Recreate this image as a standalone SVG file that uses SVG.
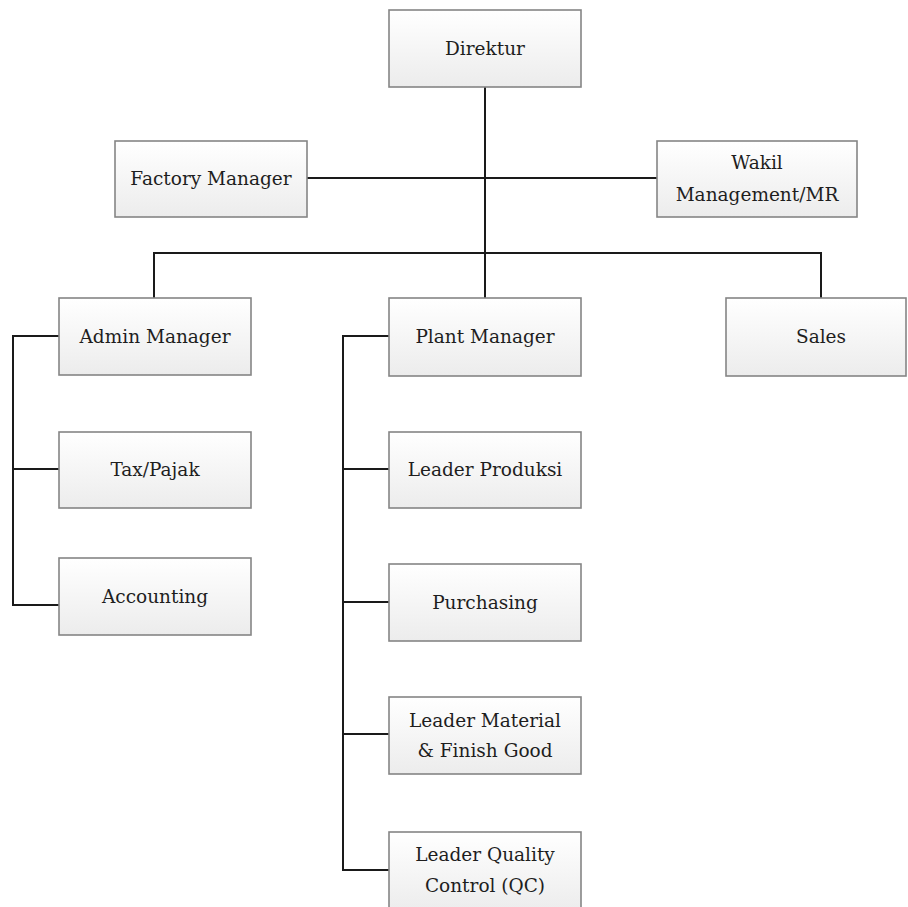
<svg xmlns="http://www.w3.org/2000/svg" width="908" height="907" viewBox="0 0 908 907">
<defs>
<linearGradient id="g" x1="0" y1="0" x2="0" y2="1">
<stop offset="0" stop-color="#ffffff"/>
<stop offset="1" stop-color="#ececec"/>
</linearGradient>
</defs>
<style>
.box{fill:url(#g);stroke:#858585;stroke-width:1.6}
.t{font-family:"DejaVu Serif","Liberation Serif",serif;font-size:18.5px;fill:#1e1e1e;text-anchor:middle}
.c{fill:none;stroke:#1a1a1a;stroke-width:2}
</style>
<rect width="908" height="907" fill="#ffffff"/>
<g id="connectors">
<path class="c" d="M485,87 V298"/>
<path class="c" d="M307,178 H657"/>
<path class="c" d="M154,298 V253 H821 V298"/>
<path class="c" d="M59,336 H13 V605 H59 M13,469 H59"/>
<path class="c" d="M389,336 H343 V870 H389 M343,469 H389 M343,602 H389 M343,734 H389"/>
</g>
<g id="direktur"><rect class="box" x="389" y="10" width="192" height="77"/><text class="t" x="485" y="55">Direktur</text></g>
<g id="factory-manager"><rect class="box" x="115" y="141" width="192" height="76"/><text class="t" x="211" y="185">Factory Manager</text></g>
<g id="wakil-management"><rect class="box" x="657" y="141" width="200" height="76"/><text class="t" x="757" y="169">Wakil</text><text class="t" x="757" y="201">Management/MR</text></g>
<g id="admin-manager"><rect class="box" x="59" y="298" width="192" height="77"/><text class="t" x="155" y="343">Admin Manager</text></g>
<g id="plant-manager"><rect class="box" x="389" y="298" width="192" height="78"/><text class="t" x="485" y="343">Plant Manager</text></g>
<g id="sales"><rect class="box" x="726" y="298" width="180" height="78"/><text class="t" x="821" y="343">Sales</text></g>
<g id="tax-pajak"><rect class="box" x="59" y="432" width="192" height="76"/><text class="t" x="155" y="476">Tax/Pajak</text></g>
<g id="accounting"><rect class="box" x="59" y="558" width="192" height="77"/><text class="t" x="155" y="603">Accounting</text></g>
<g id="leader-produksi"><rect class="box" x="389" y="432" width="192" height="76"/><text class="t" x="485" y="476">Leader Produksi</text></g>
<g id="purchasing"><rect class="box" x="389" y="564" width="192" height="77"/><text class="t" x="485" y="609">Purchasing</text></g>
<g id="leader-material"><rect class="box" x="389" y="697" width="192" height="77"/><text class="t" x="485" y="727">Leader Material</text><text class="t" x="485" y="757">&amp; Finish Good</text></g>
<g id="leader-quality"><rect class="box" x="389" y="832" width="192" height="80"/><text class="t" x="485" y="861">Leader Quality</text><text class="t" x="485" y="892">Control (QC)</text></g>
</svg>
